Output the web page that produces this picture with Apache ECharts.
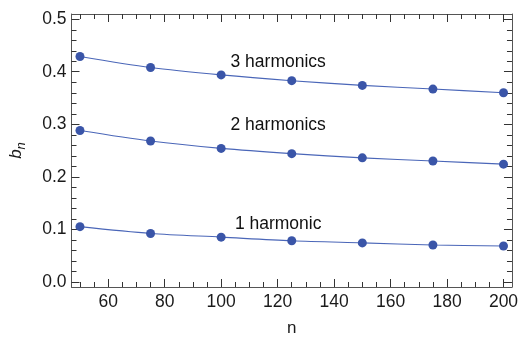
<!DOCTYPE html>
<html>
<head>
<meta charset="utf-8">
<script src="https://cdn.jsdelivr.net/npm/echarts@6/dist/echarts.min.js"></script>
<style>html,body{margin:0;padding:0;background:#fff;}#c{width:521px;height:342px;}</style>
</head>
<body>
<div id="c"></div>
<script>
// Data
const nValues = [50, 75, 100, 125, 150, 175, 200];
const harm3 = [0.429, 0.408, 0.394, 0.383, 0.374, 0.367, 0.360];
const harm2 = [0.288, 0.268, 0.254, 0.244, 0.236, 0.230, 0.224];
const harm1 = [0.105, 0.092, 0.085, 0.078, 0.074, 0.070, 0.068];
const seriesNames = ['3 harmonics', '2 harmonics', '1 harmonic'];
const labelN = [120.2, 120.2, 120.2];
const labelB = [0.418, 0.299, 0.110];
const xTicks = [60, 80, 100, 120, 140, 160, 180, 200];
const xMinorTicks = [50, 55, 65, 70, 75, 85, 90, 95, 105, 110, 115, 125, 130, 135, 145, 150, 155, 165, 170, 175, 185, 190, 195];
const yTicks = [0.0, 0.1, 0.2, 0.3, 0.4, 0.5];
const yMinorTicks = [0.02, 0.04, 0.06, 0.08, 0.12, 0.14, 0.16, 0.18, 0.22, 0.24, 0.26, 0.28, 0.32, 0.34, 0.36, 0.38, 0.42, 0.44, 0.46, 0.48];

const FONT = '"Liberation Sans", Arial, Helvetica, sans-serif';
const frameColor = '#555';
const tickColor = '#333';
const textColor = '#1a1a1a';
const blue = '#3a55a8';
const lineBlue = '#4a66b8';
const xMin = 47, xMax = 203, yMin = -0.01, yMax = 0.51;

const chart = echarts.init(document.getElementById('c'), null, {renderer: 'canvas'});

function mkAxis(kind, position, ticks, len, withLine, labels) {
  const isX = kind === 'x';
  return {
    type: 'value', position: position,
    min: isX ? xMin : yMin, max: isX ? xMax : yMax,
    axisLine: {show: withLine, onZero: false, lineStyle: {color: frameColor, width: 1}},
    axisTick: {show: true, inside: true, length: len, customValues: ticks,
      lineStyle: {color: tickColor, width: 1}},
    minorTick: {show: false},
    splitLine: {show: false},
    axisLabel: labels ? {show: true, color: textColor, fontFamily: FONT, fontSize: 17.5,
      margin: isX ? 6 : 5, customValues: ticks,
      formatter: v => isX ? String(Math.round(v)) : v.toFixed(1)} : {show: false}
  };
}

function mkSeries(name, vals, idx) {
  return {
    name: name, type: 'line', smooth: 0.3,
    xAxisIndex: 0, yAxisIndex: 0,
    data: nValues.map((n, i) => [n, vals[i]]),
    symbol: 'circle', symbolSize: 9,
    itemStyle: {color: blue},
    lineStyle: {color: lineBlue, width: 1.1},
    markPoint: {
      symbol: 'circle', symbolSize: 1,
      itemStyle: {color: 'rgba(0,0,0,0)'},
      label: {show: true, position: 'inside', color: '#111', fontFamily: FONT, fontSize: 17.5,
        formatter: () => name},
      data: [{coord: [labelN[idx], labelB[idx]]}]
    },
    z: 3
  };
}

const xBottom = mkAxis('x', 'bottom', xTicks, 8, true, true);
xBottom.name = 'n';
xBottom.nameLocation = 'middle';
xBottom.nameGap = 33;
xBottom.nameTextStyle = {fontFamily: FONT, fontSize: 17, color: textColor};

const yLeft = mkAxis('y', 'left', yTicks, 8, true, true);
yLeft.name = '{b|b}{s|n}';
yLeft.nameLocation = 'middle';
yLeft.nameGap = 44;
yLeft.nameRotate = 90;
yLeft.nameTextStyle = {fontFamily: FONT, color: textColor,
  rich: {
    b: {fontFamily: FONT, fontStyle: 'italic', fontSize: 17, color: textColor, lineHeight: 22, verticalAlign: 'middle'},
    s: {fontFamily: FONT, fontStyle: 'italic', fontSize: 13, color: textColor, lineHeight: 22, verticalAlign: 'bottom'}
  }};

const option = {
  animation: false,
  backgroundColor: '#fff',
  grid: {left: 66, top: 14, right: 7, bottom: 50, containLabel: false},
  xAxis: [
    xBottom,
    mkAxis('x', 'top', xTicks, 8, true, false),
    mkAxis('x', 'bottom', xMinorTicks, 5, false, false),
    mkAxis('x', 'top', xMinorTicks, 5, false, false)
  ],
  yAxis: [
    yLeft,
    mkAxis('y', 'right', yTicks, 8, true, false),
    mkAxis('y', 'left', yMinorTicks, 5, false, false),
    mkAxis('y', 'right', yMinorTicks, 5, false, false)
  ],
  series: [
    mkSeries(seriesNames[0], harm3, 0),
    mkSeries(seriesNames[1], harm2, 1),
    mkSeries(seriesNames[2], harm1, 2)
  ]
};
chart.setOption(option);
</script>
</body>
</html>
